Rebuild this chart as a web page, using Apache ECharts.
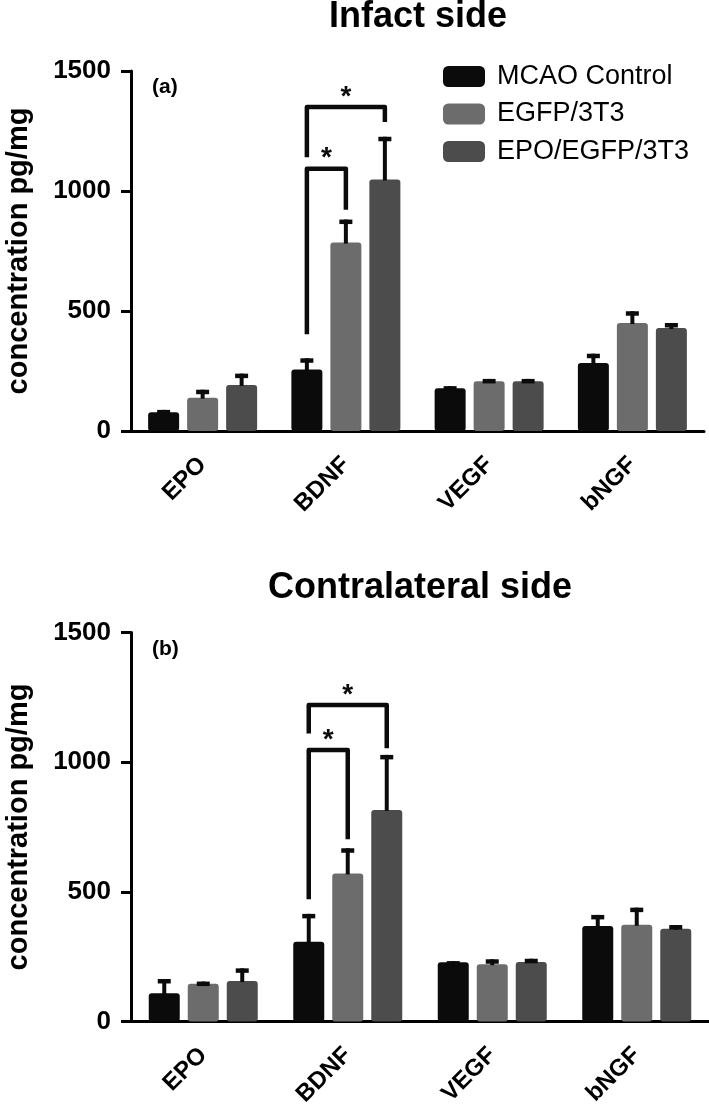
<!DOCTYPE html>
<html>
<head>
<meta charset="utf-8">
<script src="https://cdn.jsdelivr.net/npm/echarts@6/dist/echarts.min.js"></script>
<style>
html,body{margin:0;padding:0;background:#fff;}
#chart{width:709px;height:1111px;}
</style>
</head>
<body>
<div id="chart"></div>
<script>
// ---- data ----
const categories = ['EPO', 'BDNF', 'VEGF', 'bNGF'];
const seriesNames = ['MCAO Control', 'EGFP/3T3', 'EPO/EGFP/3T3'];
const yTickValues = [0, 500, 1000, 1500];

const infactControl = [78, 256, 178, 283];
const infactControlErr = [10, 47, 9, 39];
const infactEGFP = [139, 785, 207, 450];
const infactEGFPErr = [33, 96, 10, 49];
const infactEPO = [192, 1048, 207, 429];
const infactEPOErr = [47, 178, 10, 21];

const contraControl = [109, 308, 228, 368];
const contraControlErr = [55, 107, 5, 43];
const contraEGFP = [146, 571, 221, 373];
const contraEGFPErr = [8, 97, 19, 66];
const contraEPO = [156, 816, 229, 358];
const contraEPOErr = [49, 212, 13, 14];

// brackets: [categoryIndex, fromSeries, toSeries, topValue, leftEndValue, rightEndValue]
const infactBrackets = [[1, 0, 1, 1093, 403, 922], [1, 0, 2, 1350, 1141, 1287]];
const contraBrackets = [[1, 0, 1, 1047, 471, 703], [1, 0, 2, 1220, 1111, 1054]];

const panelTitles = ['Infact side', 'Contralateral side'];
const panelLabels = ['(a)', '(b)'];
const yAxisName = 'concentration pg/mg';

// ---- style ----
const colors = ['#0b0b0b', '#6c6c6c', '#4c4c4c'];
const FONT = 'Liberation Sans, Arial, Helvetica, sans-serif';
const BAR_W = 31, BAR_GAP = 8, BAR_PITCH = BAR_W + BAR_GAP;

const chart = echarts.init(document.getElementById('chart'), null, {renderer: 'canvas'});

const grids = [
  {left: 131, top: 71, width: 573, height: 360, containLabel: false, outerBoundsMode: 'none'},
  {left: 131, top: 632.5, width: 578, height: 389, containLabel: false, outerBoundsMode: 'none'}
];

function xAxisCfg(i) {
  return {
    type: 'category', gridIndex: i, data: categories,
    axisLine: {lineStyle: {color: '#000', width: 3}},
    axisTick: {alignWithLabel: true, length: 10, lineStyle: {color: '#000', width: 3}},
    axisLabel: {rotate: 45, margin: 30, color: '#000', fontFamily: FONT, fontWeight: 'bold', fontSize: 24},
    splitLine: {show: false}
  };
}
function yAxisCfg(i) {
  return {
    type: 'value', gridIndex: i, min: 0, max: 1500, interval: 500,
    name: yAxisName, nameLocation: 'middle', nameGap: 98, nameRotate: 90,
    nameTextStyle: {color: '#000', fontFamily: FONT, fontWeight: 'bold', fontSize: 29},
    axisLine: {show: true, lineStyle: {color: '#000', width: 3}},
    axisTick: {show: true, length: 10, lineStyle: {color: '#000', width: 3}},
    axisLabel: {margin: 20, color: '#000', fontFamily: FONT, fontWeight: 'bold', fontSize: 26,
      formatter: v => yTickValues.includes(v) ? String(v) : ''},
    splitLine: {show: false}
  };
}

function barSeries(name, data, idx, gi) {
  return {
    type: 'bar', name: name, data: data, xAxisIndex: gi, yAxisIndex: gi,
    barWidth: BAR_W, barGap: (BAR_GAP / BAR_W * 100) + '%',
    itemStyle: {color: colors[idx], borderRadius: 3},
    z: 2
  };
}

function errorSeries(gi, groups) {
  const data = [];
  groups.forEach((g, s) => {
    g.vals.forEach((v, c) => data.push([c, v, g.errs[c], s]));
  });
  return {
    type: 'custom', xAxisIndex: gi, yAxisIndex: gi, z: 3, silent: true,
    data: data,
    renderItem: function (params, api) {
      const c = api.value(0), v = api.value(1), e = api.value(2), s = api.value(3);
      const base = api.coord([c, v]);
      const top = api.coord([c, v + e]);
      const x = base[0] + (s - 1) * BAR_PITCH;
      return {
        type: 'group', children: [
          {type: 'rect', shape: {x: x - 2, y: top[1], width: 4, height: base[1] - top[1] + 1}, style: {fill: '#0b0b0b'}},
          {type: 'rect', shape: {x: x - 6.5, y: top[1], width: 13, height: 4.5}, style: {fill: '#0b0b0b'}}
        ]
      };
    }
  };
}

function bracketSeries(gi, brackets) {
  return {
    type: 'custom', xAxisIndex: gi, yAxisIndex: gi, z: 4, silent: true,
    data: brackets,
    renderItem: function (params, api) {
      const c = api.value(0), s1 = api.value(1), s2 = api.value(2);
      const topV = api.value(3), lV = api.value(4), rV = api.value(5);
      const cx = api.coord([c, topV])[0];
      const yTop = api.coord([c, topV])[1];
      const yL = api.coord([c, lV])[1];
      const yR = api.coord([c, rV])[1];
      const xl = cx + (s1 - 1) * BAR_PITCH;
      const xr = cx + (s2 - 1) * BAR_PITCH;
      return {
        type: 'group', children: [
          {type: 'polyline', shape: {points: [[xl, yL], [xl, yTop], [xr, yTop], [xr, yR]]},
            style: {stroke: '#0b0b0b', lineWidth: 4.5, fill: null, lineJoin: 'round'}},
          {type: 'text', x: (xl + xr) / 2, y: yTop + 4,
            style: {text: '*', fill: '#0b0b0b', font: 'bold 28px ' + FONT, align: 'center', verticalAlign: 'bottom'}}
        ]
      };
    }
  };
}

const option = {
  animation: false,
  backgroundColor: '#fff',
  title: [
    {text: panelTitles[0], left: 418, top: -1, padding: 0, textAlign: 'center',
      textStyle: {fontFamily: FONT, fontWeight: 'bold', fontSize: 36, color: '#000'}},
    {text: panelLabels[0], left: 152, top: 77, padding: 0,
      textStyle: {fontFamily: FONT, fontWeight: 'bold', fontSize: 21, color: '#000'}},
    {text: panelTitles[1], left: 420, top: 570, padding: 0, textAlign: 'center',
      textStyle: {fontFamily: FONT, fontWeight: 'bold', fontSize: 36, color: '#000'}},
    {text: panelLabels[1], left: 152, top: 639, padding: 0,
      textStyle: {fontFamily: FONT, fontWeight: 'bold', fontSize: 21, color: '#000'}}
  ],
  legend: {
    orient: 'vertical', left: 443, top: 63, padding: 0,
    itemWidth: 42, itemHeight: 21, itemGap: 10.5, icon: 'roundRect',
    data: seriesNames,
    textStyle: {fontFamily: FONT, fontSize: 27, color: '#000', padding: [0, 0, 0, 7]}
  },
  grid: grids,
  xAxis: [xAxisCfg(0), xAxisCfg(1)],
  yAxis: [yAxisCfg(0), yAxisCfg(1)],
  series: [
    barSeries(seriesNames[0], infactControl, 0, 0),
    barSeries(seriesNames[1], infactEGFP, 1, 0),
    barSeries(seriesNames[2], infactEPO, 2, 0),
    barSeries(seriesNames[0], contraControl, 0, 1),
    barSeries(seriesNames[1], contraEGFP, 1, 1),
    barSeries(seriesNames[2], contraEPO, 2, 1),
    errorSeries(0, [{vals: infactControl, errs: infactControlErr}, {vals: infactEGFP, errs: infactEGFPErr}, {vals: infactEPO, errs: infactEPOErr}]),
    errorSeries(1, [{vals: contraControl, errs: contraControlErr}, {vals: contraEGFP, errs: contraEGFPErr}, {vals: contraEPO, errs: contraEPOErr}]),
    bracketSeries(0, infactBrackets),
    bracketSeries(1, contraBrackets)
  ]
};
chart.setOption(option);
</script>
</body>
</html>
